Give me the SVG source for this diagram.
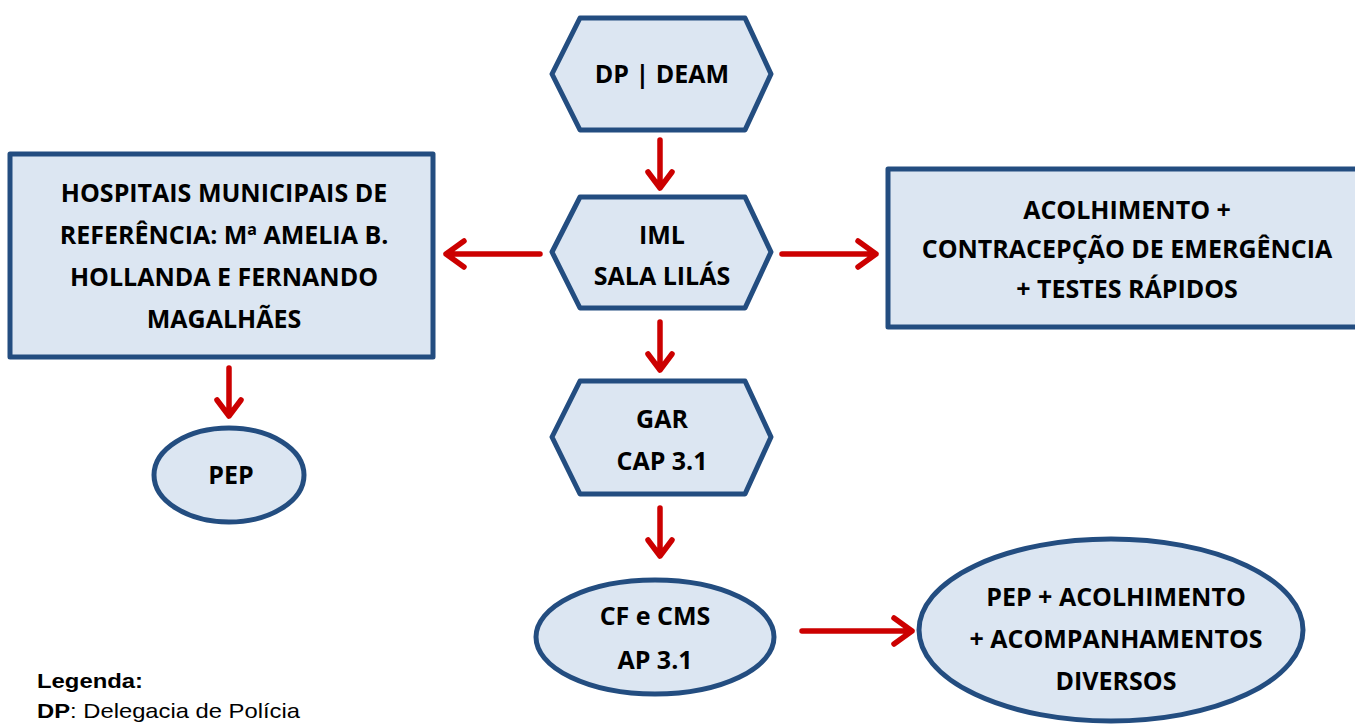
<svg xmlns="http://www.w3.org/2000/svg" width="1355" height="725" viewBox="0 0 1355 725">
<style>
.n{fill:#DCE6F2;stroke:#234D80;stroke-width:5;stroke-linejoin:round}
.t{font-family:"Open Sans","Liberation Sans",sans-serif;font-weight:bold;font-size:25px;fill:#000;text-anchor:middle}
.c{fill:none;stroke:#CC0000;stroke-width:5.5;stroke-linecap:round;stroke-linejoin:round}
.l{font-family:"Liberation Sans",Arial,sans-serif;font-size:21px;fill:#000}
</style>
<rect width="1355" height="725" fill="#fff"/>
<g id="connectors">
<path class="c" d="M660 140V188M648 172L660 188L672 172"/>
<path class="c" d="M660 322V370M648 354L660 370L672 354"/>
<path class="c" d="M660 508V556M648 540L660 556L672 540"/>
<path class="c" d="M540 254H446M464 241L446 254L464 267"/>
<path class="c" d="M782 254H876M858 241L876 254L858 267"/>
<path class="c" d="M229 368V416M217 400L229 416L241 400"/>
<path class="c" d="M802 631H912M894 618L912 631L894 644"/>
</g>
<g id="dp">
<polygon class="n" points="552,74 580,18 745,18 771,74 745,130 580,130"/>
<text class="t" x="662" y="83">DP | DEAM</text>
</g>
<g id="iml">
<polygon class="n" points="552,252 580,197 745,197 771,252 745,308 580,308"/>
<text class="t" x="662" y="244">IML</text>
<text class="t" x="662" y="285">SALA LILÁS</text>
</g>
<g id="gar">
<polygon class="n" points="552,437 580,381 745,381 771,437 745,494 580,494"/>
<text class="t" x="662" y="428">GAR</text>
<text class="t" x="662" y="470">CAP 3.1</text>
</g>
<g id="hospitais">
<rect class="n" x="10" y="154" width="423" height="203"/>
<text class="t" x="224" y="202">HOSPITAIS MUNICIPAIS DE</text>
<text class="t" x="224" y="244">REFERÊNCIA: Mª AMELIA B.</text>
<text class="t" x="224" y="286">HOLLANDA E FERNANDO</text>
<text class="t" x="224" y="328">MAGALHÃES</text>
</g>
<g id="acolhimento">
<rect class="n" x="888" y="169" width="480" height="158"/>
<text class="t" x="1127" y="219">ACOLHIMENTO +</text>
<text class="t" x="1127" y="258">CONTRACEPÇÃO DE EMERGÊNCIA</text>
<text class="t" x="1127" y="298">+ TESTES RÁPIDOS</text>
</g>
<g id="pep">
<ellipse class="n" cx="229" cy="475" rx="75" ry="47"/>
<text class="t" x="231" y="484">PEP</text>
</g>
<g id="cf">
<ellipse class="n" cx="655" cy="637" rx="119" ry="57"/>
<text class="t" x="655" y="625">CF e CMS</text>
<text class="t" x="655" y="669">AP 3.1</text>
</g>
<g id="pep-acolhimento">
<ellipse class="n" cx="1111" cy="630" rx="192" ry="91"/>
<text class="t" x="1116" y="606">PEP + ACOLHIMENTO</text>
<text class="t" x="1116" y="648">+ ACOMPANHAMENTOS</text>
<text class="t" x="1116" y="690">DIVERSOS</text>
</g>
<g id="legenda">
<text class="l" x="37" y="688" font-weight="bold" textLength="106" lengthAdjust="spacingAndGlyphs">Legenda:</text>
<text class="l" x="37" y="718" textLength="263" lengthAdjust="spacingAndGlyphs"><tspan font-weight="bold">DP</tspan>: Delegacia de Polícia</text>
</g>
</svg>
